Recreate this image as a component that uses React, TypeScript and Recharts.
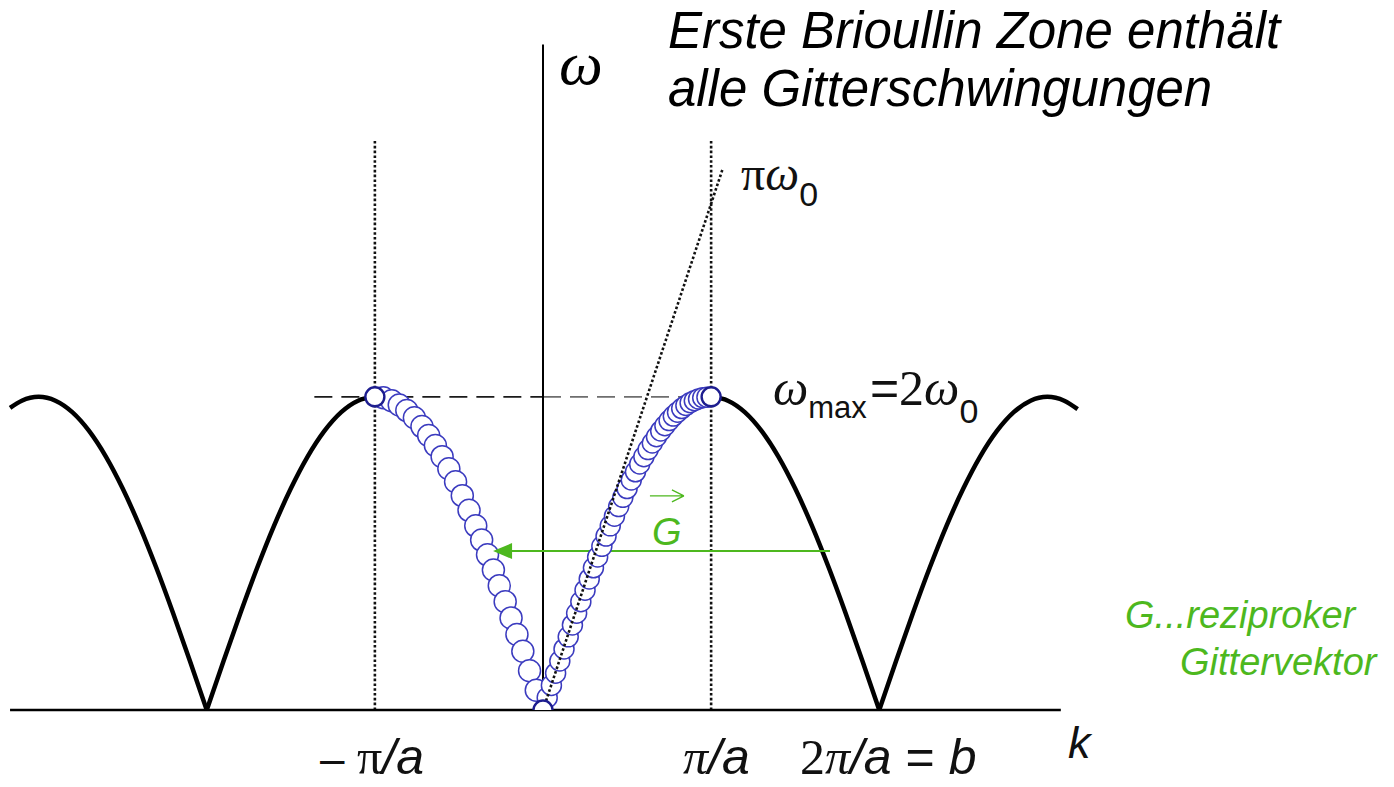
import React from "react";
import {
  ComposedChart,
  XAxis,
  YAxis,
  Line,
  Scatter,
  ReferenceLine,
  ReferenceDot,
} from "recharts";

// k in units of π/a, ω in units of ω0
const archAK = [-3.17, -3.1, -3.0, -2.9, -2.8, -2.7, -2.6, -2.5, -2.4, -2.3, -2.2, -2.1, -2.0];
const archAW = [1.929, 1.975, 2.0, 1.975, 1.902, 1.782, 1.618, 1.414, 1.176, 0.908, 0.618, 0.313, 0];

const archBK = [-2.0, -1.9, -1.8, -1.7, -1.6, -1.5, -1.4, -1.3, -1.2, -1.1, -1.0];
const archBW = [0, 0.313, 0.618, 0.908, 1.176, 1.414, 1.618, 1.782, 1.902, 1.975, 2.0];

const archCK = [1.0, 1.1, 1.2, 1.3, 1.4, 1.5, 1.6, 1.7, 1.8, 1.9, 2.0];
const archCW = [2.0, 1.975, 1.902, 1.782, 1.618, 1.414, 1.176, 0.908, 0.618, 0.313, 0];

const archDK = [2.0, 2.1, 2.2, 2.3, 2.4, 2.5, 2.6, 2.7, 2.8, 2.9, 3.0, 3.1, 3.18];
const archDW = [0, 0.313, 0.618, 0.908, 1.176, 1.414, 1.618, 1.782, 1.902, 1.975, 2.0, 1.975, 1.921];

// phonon modes inside the first zone
const leftModeK = [
  -0.95, -0.9, -0.855, -0.81, -0.765, -0.72, -0.68, -0.64, -0.6, -0.56, -0.52, -0.48,
  -0.44, -0.4, -0.365, -0.33, -0.295, -0.26, -0.225, -0.19, -0.155, -0.12, -0.08, -0.04,
];
const leftModeW = [
  1.994, 1.975, 1.948, 1.912, 1.866, 1.81, 1.753, 1.689, 1.618, 1.541, 1.458, 1.369,
  1.275, 1.176, 1.085, 0.991, 0.894, 0.794, 0.692, 0.588, 0.482, 0.375, 0.251, 0.126,
];

const rightModeK = [
  0.025, 0.05, 0.075, 0.1, 0.125, 0.15, 0.175, 0.2, 0.225, 0.25, 0.275, 0.3, 0.325,
  0.35, 0.375, 0.4, 0.425, 0.45, 0.475, 0.5, 0.525, 0.55, 0.575, 0.6, 0.625, 0.65,
  0.675, 0.7, 0.725, 0.75, 0.775, 0.8, 0.825, 0.85, 0.875, 0.9, 0.925, 0.95, 0.975,
];
const rightModeW = [
  0.079, 0.157, 0.235, 0.313, 0.39, 0.467, 0.543, 0.618, 0.692, 0.765, 0.837, 0.908,
  0.977, 1.045, 1.111, 1.176, 1.238, 1.299, 1.358, 1.414, 1.469, 1.521, 1.571, 1.618,
  1.663, 1.705, 1.745, 1.782, 1.816, 1.848, 1.877, 1.902, 1.925, 1.945, 1.962, 1.975,
  1.986, 1.994, 1.998,
];

const zoneEdgeK = [-1, 0, 1];
const zoneEdgeW = [2, 0, 2];

// linear (sound) dispersion ω = π ω0 · k
const soundK = [0, 1.07];
const soundW = [0, 3.46];

const zip = (ks: number[], ws: number[]) => ks.map((k, i) => ({ k, w: ws[i] }));

const SANS = "'Liberation Sans', Arial, sans-serif";
const SERIF = "'Liberation Serif', 'Times New Roman', serif";
const GREEN = "#4db81e";
const MODE_BLUE = "#3b3bbf";
const DOTS = "2.6 2.2";

const modeCircle = (r: number) => (p: any) =>
  <circle cx={p.cx} cy={p.cy} r={r} fill="#fff" stroke={MODE_BLUE} strokeWidth={1.5} />;

const edgeCircle = (p: any) =>
  <circle cx={p.cx} cy={p.cy} r={9.5} fill="#fff" stroke="#1d1d8f" strokeWidth={2.4} />;

export default function App() {
  const arches = [zip(archAK, archAW), zip(archBK, archBW), zip(archCK, archCW), zip(archDK, archDW)];

  return (
    <div style={{ position: "fixed", left: 0, top: 0, background: "#fff" }}>
      <ComposedChart
        width={1394}
        height={787}
        margin={{ top: 21, right: 313, bottom: 77, left: 5 }}
      >
        <XAxis dataKey="k" type="number" domain={[-3.2, 3.2]} allowDataOverflow hide />
        <YAxis dataKey="w" type="number" domain={[0, 4.4]} allowDataOverflow hide />

        {/* guide lines */}
        <ReferenceLine segment={[{ x: -1, y: 0 }, { x: -1, y: 3.64 }]} stroke="#111" strokeWidth={2.6} strokeDasharray={DOTS} ifOverflow="visible" />
        <ReferenceLine segment={[{ x: 1, y: 0 }, { x: 1, y: 3.64 }]} stroke="#111" strokeWidth={2.6} strokeDasharray={DOTS} ifOverflow="visible" />
        <ReferenceLine segment={[{ x: -1.36, y: 2 }, { x: 0, y: 2 }]} stroke="#1a1a1a" strokeWidth={1.8} strokeDasharray="18 9" ifOverflow="visible" />
        <ReferenceLine segment={[{ x: 0, y: 2 }, { x: 1, y: 2 }]} stroke="#6e6e6e" strokeWidth={1.8} strokeDasharray="18 9" ifOverflow="visible" />

        {arches.map((d, i) => (
          <Line
            key={i}
            data={d}
            dataKey="w"
            type="monotone"
            stroke="#000"
            strokeWidth={4.5}
            dot={false}
            activeDot={false}
            isAnimationActive={false}
          />
        ))}

        {/* axes */}
        <ReferenceLine segment={[{ x: 0, y: 0 }, { x: 0, y: 4.25 }]} stroke="#000" strokeWidth={2} ifOverflow="visible" />
        <ReferenceLine segment={[{ x: -3.17, y: 0 }, { x: 3.08, y: 0 }]} stroke="#000" strokeWidth={2.5} ifOverflow="visible" />

        <Scatter data={zip(leftModeK, leftModeW)} dataKey="w" shape={modeCircle(11)} isAnimationActive={false} />
        <Scatter data={zip(rightModeK, rightModeW)} dataKey="w" shape={modeCircle(10)} isAnimationActive={false} />

        <Scatter
          data={zip(soundK, soundW)}
          dataKey="w"
          line={{ stroke: "#111", strokeWidth: 2.6, strokeDasharray: DOTS }}
          shape={() => <g />}
          isAnimationActive={false}
        />

        <Scatter data={zip(zoneEdgeK, zoneEdgeW)} dataKey="w" shape={edgeCircle} isAnimationActive={false} />

        {/* reciprocal lattice vector G */}
        <ReferenceLine segment={[{ x: 1.707, y: 1.015 }, { x: -0.25, y: 1.015 }]} stroke={GREEN} strokeWidth={2} ifOverflow="visible" />
        <ReferenceDot
          x={-0.297}
          y={1.015}
          r={0}
          ifOverflow="visible"
          shape={(p: any) => (
            <polygon
              points={`${p.cx},${p.cy} ${p.cx + 19},${p.cy - 8} ${p.cx + 19},${p.cy + 8}`}
              fill={GREEN}
            />
          )}
        />
        <ReferenceDot
          x={0.636}
          y={1.367}
          r={0}
          ifOverflow="visible"
          shape={(p: any) => (
            <g>
              <path
                d={`M${p.cx},${p.cy} h34 M${p.cx + 34},${p.cy} l-12,-6 M${p.cx + 34},${p.cy} l-12,6`}
                stroke={GREEN}
                strokeWidth={1.3}
                fill="none"
              />
              <text x={p.cx + 2} y={p.cy + 49} fontFamily={SANS} fontStyle="italic" fontSize={38} fill={GREEN}>
                G
              </text>
            </g>
          )}
        />

        {/* labels */}
        <ReferenceDot
          x={0.743}
          y={4.227}
          r={0}
          ifOverflow="visible"
          shape={(p: any) => (
            <text x={p.cx} y={p.cy} fontFamily={SANS} fontStyle="italic" fontSize={51} fill="#000">
              <tspan x={p.cx}>Erste Brioullin Zone enthält</tspan>
              <tspan x={p.cx} dy={58}>alle Gitterschwingungen</tspan>
            </text>
          )}
        />
        <ReferenceDot
          x={0.107}
          y={4.004}
          r={0}
          ifOverflow="visible"
          shape={(p: any) => (
            <text x={p.cx - 2} y={p.cy + 1} fontFamily={SERIF} fontStyle="italic" fontSize={62} fill="#000">
              ω
            </text>
          )}
        />
        <ReferenceDot
          x={1.178}
          y={3.321}
          r={0}
          ifOverflow="visible"
          shape={(p: any) => (
            <text x={p.cx} y={p.cy} fontFamily={SERIF} fontSize={48} fill="#111">
              π<tspan fontStyle="italic">ω</tspan>
              <tspan fontFamily={SANS} fontSize={34} dy={16}>0</tspan>
            </text>
          )}
        />
        <ReferenceDot
          x={1.368}
          y={1.948}
          r={0}
          ifOverflow="visible"
          shape={(p: any) => (
            <text x={p.cx} y={p.cy} fontFamily={SERIF} fontSize={50} fill="#111">
              <tspan fontStyle="italic">ω</tspan>
              <tspan fontFamily={SANS} fontSize={31} dy={13}>max</tspan>
              <tspan fontFamily={SANS} dy={-13} dx={3}>=</tspan>
              <tspan>2</tspan>
              <tspan fontStyle="italic">ω</tspan>
              <tspan fontFamily={SANS} fontSize={34} dy={18}>0</tspan>
            </text>
          )}
        />
        <ReferenceDot
          x={-1.326}
          y={-0.41}
          r={0}
          ifOverflow="visible"
          shape={(p: any) => (
            <text x={p.cx} y={p.cy} fontSize={50} fill="#111">
              <tspan fontFamily={SANS} fontSize={44}>–</tspan>
              <tspan fontFamily={SERIF}> π</tspan>
              <tspan fontFamily={SANS} fontStyle="italic">/a</tspan>
            </text>
          )}
        />
        <ReferenceDot
          x={0.833}
          y={-0.41}
          r={0}
          ifOverflow="visible"
          shape={(p: any) => (
            <text x={p.cx} y={p.cy} fontSize={50} fill="#111">
              <tspan fontFamily={SERIF} fontStyle="italic">π</tspan>
              <tspan fontFamily={SANS} fontStyle="italic">/a</tspan>
            </text>
          )}
        />
        <ReferenceDot
          x={1.528}
          y={-0.41}
          r={0}
          ifOverflow="visible"
          shape={(p: any) => (
            <text x={p.cx} y={p.cy} fontSize={50} fill="#111">
              <tspan fontFamily={SERIF}>2</tspan>
              <tspan fontFamily={SERIF} fontStyle="italic">π</tspan>
              <tspan fontFamily={SANS} fontStyle="italic">/a</tspan>
              <tspan fontFamily={SANS}> = </tspan>
              <tspan fontFamily={SANS} fontStyle="italic">b</tspan>
            </text>
          )}
        />
        <ReferenceDot
          x={3.123}
          y={-0.307}
          r={0}
          ifOverflow="visible"
          shape={(p: any) => (
            <text x={p.cx} y={p.cy} fontFamily={SANS} fontStyle="italic" fontSize={45} fill="#111">
              k
            </text>
          )}
        />
        <ReferenceDot
          x={3.462}
          y={0.524}
          r={0}
          ifOverflow="visible"
          shape={(p: any) => (
            <text x={p.cx} y={p.cy} fontFamily={SANS} fontStyle="italic" fontSize={38} fill={GREEN}>
              <tspan x={p.cx}>G...reziproker</tspan>
              <tspan x={p.cx + 55} dy={47}>Gittervektor</tspan>
            </text>
          )}
        />
      </ComposedChart>
    </div>
  );
}
